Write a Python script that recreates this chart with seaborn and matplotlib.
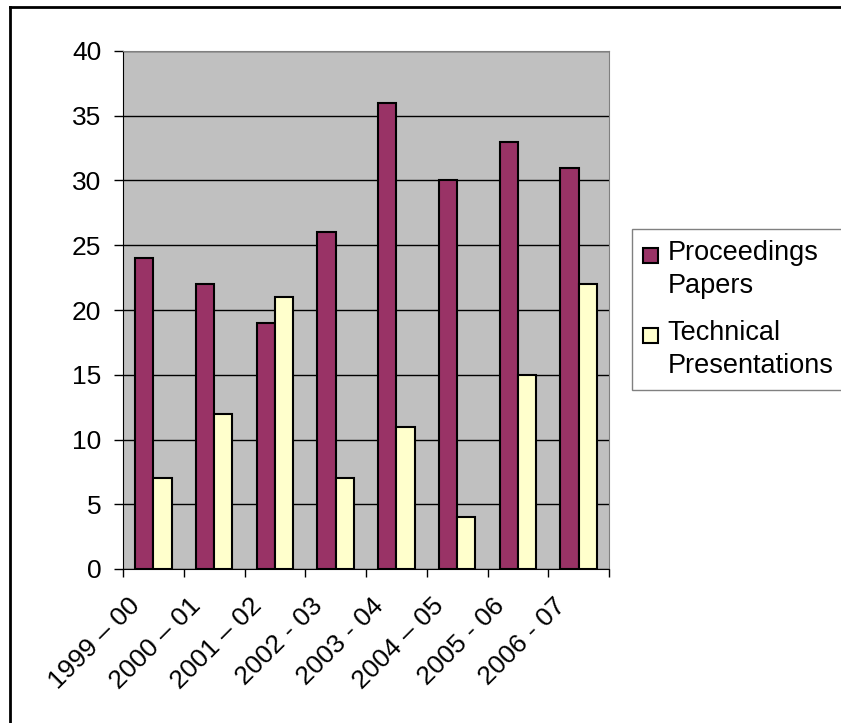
import matplotlib
matplotlib.use('Agg')
import matplotlib.pyplot as plt
import matplotlib.transforms as mtransforms
from matplotlib.lines import Line2D
from matplotlib.patches import Rectangle
from matplotlib.legend_handler import HandlerPatch
import numpy as np
import pandas as pd
import seaborn as sns

# ---------------------------------------------------------------------
# data
periods = ["1999 – 00", "2000 – 01", "2001 – 02", "2002 - 03",
           "2003 - 04", "2004 – 05", "2005 - 06", "2006 - 07"]
proceedings = [24, 22, 19, 26, 36, 30, 33, 31]
technical = [7, 12, 21, 7, 11, 4, 15, 22]
series_names = ["Proceedings\nPapers", "Technical\nPresentations"]
colors = ["#993366", "#FFFFCC"]

df = pd.DataFrame({
    'Period': periods * 2,
    'Count': proceedings + technical,
    'Series': [series_names[0]] * len(periods) + [series_names[1]] * len(periods),
})

plt.rcParams['font.family'] = ['Liberation Sans', 'DejaVu Sans']

fig = plt.figure(figsize=(8.41, 7.23), dpi=100)
ax = fig.add_axes([123 / 841, 1 - 569 / 723, 486 / 841, 518 / 723])

sns.barplot(data=df, x='Period', y='Count', hue='Series', palette=colors,
            width=0.6, saturation=1, edgecolor='black', linewidth=1.5, ax=ax)

# ---------------------------------------------------------------------
# Excel-like styling
ax.set_facecolor('#C0C0C0')
ax.set_xlim(-0.5, len(periods) - 0.5)
ax.set_ylim(0, 40)
ax.set_yticks(range(0, 41, 5))
ax.yaxis.grid(True, color='black', linewidth=1)
ax.set_axisbelow(True)
ax.set_xlabel('')
ax.set_ylabel('')

for side in ['top', 'right']:
    ax.spines[side].set_color('#808080')
for side in ['left', 'bottom']:
    ax.spines[side].set_color('black')

ax.set_xticks(np.arange(-0.5, len(periods), 1), minor=True)
ax.tick_params(axis='x', which='major', length=0, pad=24, labelsize=19)
ax.tick_params(axis='x', which='minor', length=6, width=1)
ax.tick_params(axis='y', length=6.5, width=1, pad=9, labelsize=19)

shift = mtransforms.ScaledTranslation(-17 / 100, 0, fig.dpi_scale_trans)
for lbl in ax.get_xticklabels():
    lbl.set_rotation(45)
    lbl.set_ha('right')
    lbl.set_va('center')
    lbl.set_rotation_mode('anchor')
    lbl.set_transform(lbl.get_transform() + shift)


# legend marker sits next to the first line of each two-line label
def top_square(legend, orig_handle, xdescent, ydescent, width, height, fontsize):
    s = 0.55 * fontsize
    return Rectangle((-xdescent, 0.62 * fontsize), s, s)


handles, labels = ax.get_legend_handles_labels()
ax.get_legend().remove()
leg = fig.legend(handles, labels, loc='center left',
                 bbox_to_anchor=(632 / 841, 1 - 309.5 / 723),
                 frameon=True, fancybox=False, edgecolor='#808080', framealpha=1,
                 fontsize=19.5, handlelength=0.55, handleheight=0.7,
                 handletextpad=0.37, borderpad=0.4, labelspacing=0.75,
                 borderaxespad=0,
                 handler_map={Rectangle: HandlerPatch(patch_func=top_square)})
leg.get_frame().set_linewidth(1)
for t in leg.get_texts():
    t.set_linespacing(1.38)

# outer chart border (left and top edges visible)
fig.add_artist(Line2D([10 / 841, 10 / 841], [0, 1 - 7 / 723],
                      transform=fig.transFigure, color='black', lw=2))
fig.add_artist(Line2D([10 / 841, 1], [1 - 7 / 723, 1 - 7 / 723],
                      transform=fig.transFigure, color='black', lw=2))

fig.savefig('out.png', dpi=100)
